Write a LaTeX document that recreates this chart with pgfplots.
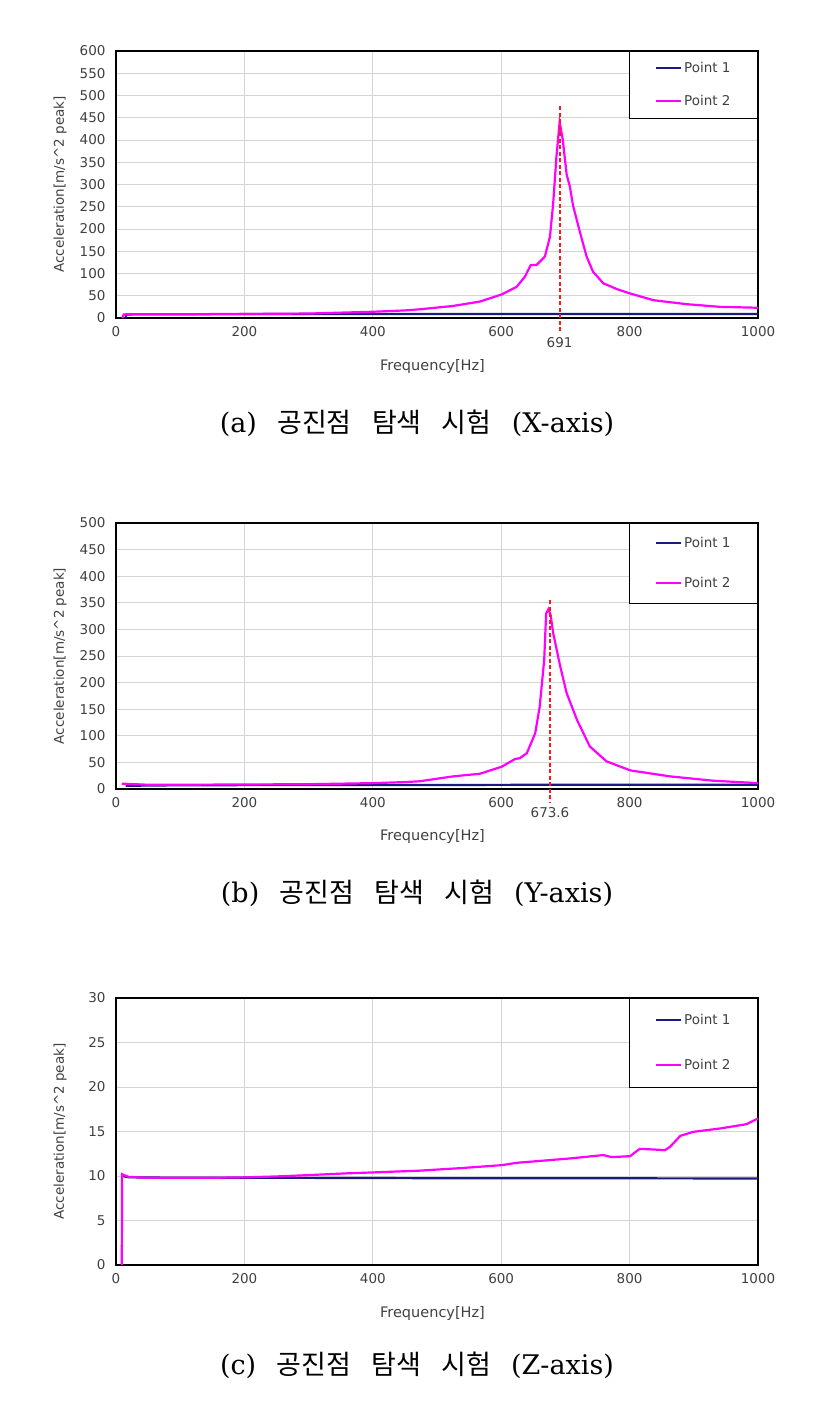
\documentclass[border=0pt]{standalone}
\usepackage{fontspec}
\usepackage{pgfplots}
\pgfplotsset{compat=1.18}
\setmainfont{DejaVu Sans}
\newfontfamily\capserif{DejaVu Serif}
\newfontfamily\kr{Noto Sans CJK KR}
\definecolor{pinkc}{HTML}{FF00FF}
\definecolor{navyc}{HTML}{1A1A80}
\definecolor{gridc}{HTML}{D4D4D4}
\definecolor{tickc}{HTML}{404040}
\definecolor{redc}{HTML}{FF1A1A}

\pgfplotsset{
  myaxis/.style={
    scale only axis, width=642pt,
    xmin=0, xmax=1000, xtick={0,200,400,600,800,1000},
    grid=major, major grid style={gridc, line width=0.8pt},
    axis line style={black, line width=1.8pt},
    tick style={draw=none},
    ticklabel style={font=\fontsize{13.5}{15}\selectfont, text=tickc},
    /pgf/number format/assume math mode=true,
    /pgf/number format/1000 sep={},
    xticklabel style={yshift=-5pt}, yticklabel style={xshift=-7pt},
    xlabel={Frequency[Hz]}, ylabel={Acceleration[m/s\textasciicircum 2 peak]},
    xlabel style={at={(axis description cs:0.493,-0.18)}, anchor=center, font=\fontsize{14.5}{16}\selectfont, text=tickc},
    ylabel style={at={(axis description cs:-0.087,0.5)}, anchor=center, font=\fontsize{13.5}{15}\selectfont, text=tickc},
    clip=false,
    legend cell align=left,
    legend image code/.code={\draw[##1] (0pt,0pt) -- (25pt,0pt);},
    legend style={at={(1,1)}, anchor=north east, draw=black, line width=1pt,
      fill=white, font=\fontsize{13.5}{15}\selectfont\color{tickc}, inner xsep=25pt},
  },
  p1/.style={color=navyc, line width=2.2pt},
  p2/.style={color=pinkc, line width=2.2pt},
  rdash/.style={color=redc, line width=2pt, dash pattern=on 4pt off 2.5pt},
}

\begin{document}
\begin{tikzpicture}[x=1pt,y=1pt]
\path[use as bounding box] (0,0) rectangle (833,1402);

% ---------- (a) X-axis ----------
\begin{axis}[myaxis, at={(116pt,1084pt)}, anchor=south west, height=267pt,
  ymin=0, ymax=600, ytick={0,50,...,600},
  legend style={row sep=17pt, inner ysep=9pt}]
\addplot[p1] coordinates {(15,0) (16,8) (100,8.5) (300,9) (500,9) (700,9) (900,9) (1000,9)};
\addlegendentry{Point 1}
\addplot[p2] coordinates {
(10,0) (12,8) (50,8.5) (100,8.5) (200,9) (300,10) (350,12) (400,14) (450,17)
(473,19.5) (525,27) (567,37) (601,53) (624,70) (637,93) (646,119) (655,119)
(668,138) (676,183) (681,258) (686,362) (691,440) (693,424) (696,400) (699,360)
(702,322) (707,295) (712,252) (723,191) (733,138) (743,104) (759,78) (780,65)
(801,55) (837,40) (889,31) (941,25) (1000,23)};
\addlegendentry{Point 2}
\addplot[rdash, forget plot] coordinates {(691,476) (691,-31)};
\node[font=\fontsize{13.5}{15}\selectfont, text=tickc] at (axis cs:691,-56) {691};
\end{axis}

% ---------- (b) Y-axis ----------
\begin{axis}[myaxis, at={(116pt,613pt)}, anchor=south west, height=266pt,
  ymin=0, ymax=500, ytick={0,50,...,500},
  legend style={row sep=24pt, inner ysep=12pt}]
\addplot[p1] coordinates {(15,6) (100,7) (300,7.5) (500,7.5) (700,8) (900,8) (1000,8)};
\addlegendentry{Point 1}
\addplot[p2] coordinates {
(9,10) (50,8) (100,8) (200,8.5) (300,9) (400,11) (450,13) (473,14.5) (525,23.7)
(567,28.7) (601,42) (621,56) (629,58) (640,67.5) (653,105) (660,155) (667,243)
(670,330) (673.6,338) (677,327) (681,293) (692,230) (702,180) (718,130) (738,80)
(764,52) (801,35) (863,23.7) (930,15.6) (1000,11)};
\addlegendentry{Point 2}
\addplot[rdash, forget plot] coordinates {(676,355) (676,-24)};
\node[font=\fontsize{13.5}{15}\selectfont, text=tickc] at (axis cs:676,-45) {673.6};
\end{axis}

% ---------- (c) Z-axis ----------
\begin{axis}[myaxis, at={(116pt,137pt)}, anchor=south west, height=267pt,
  ymin=0, ymax=30, ytick={0,5,...,30},
  legend style={row sep=29pt, inner ysep=14pt}]
\addplot[p1] coordinates {(10,10) (20,9.85) (100,9.8) (200,9.8) (360,9.78) (500,9.75) (700,9.75) (900,9.73) (1000,9.73)};
\addlegendentry{Point 1}
\addplot[p2] coordinates {
(9,0) (9.5,10.2) (12,10.1) (20,9.9) (50,9.8) (100,9.8) (150,9.8) (200,9.85)
(250,9.95) (300,10.1) (360,10.3) (400,10.4) (473,10.6) (540,10.9) (601,11.22)
(624,11.48) (707,11.97) (759,12.35) (772,12.12) (801,12.23) (806,12.53) (816,13.05)
(837,12.98) (855,12.9) (863,13.28) (879,14.51) (899,14.96) (941,15.34) (982,15.82)
(1000,16.46)};
\addlegendentry{Point 2}
\end{axis}

% ---------- captions ----------
\node[font=\fontsize{27}{32}\selectfont, text=black] at (417,979)
  {\capserif(a)\hspace{0.75em}\kr 공진점\hspace{0.75em}탐색\hspace{0.75em}시험\hspace{0.75em}\capserif(X-axis)};
\node[font=\fontsize{27}{32}\selectfont, text=black] at (417,509)
  {\capserif(b)\hspace{0.75em}\kr 공진점\hspace{0.75em}탐색\hspace{0.75em}시험\hspace{0.75em}\capserif(Y-axis)};
\node[font=\fontsize{27}{32}\selectfont, text=black] at (417,37)
  {\capserif(c)\hspace{0.75em}\kr 공진점\hspace{0.75em}탐색\hspace{0.75em}시험\hspace{0.75em}\capserif(Z-axis)};
\end{tikzpicture}
\end{document}
